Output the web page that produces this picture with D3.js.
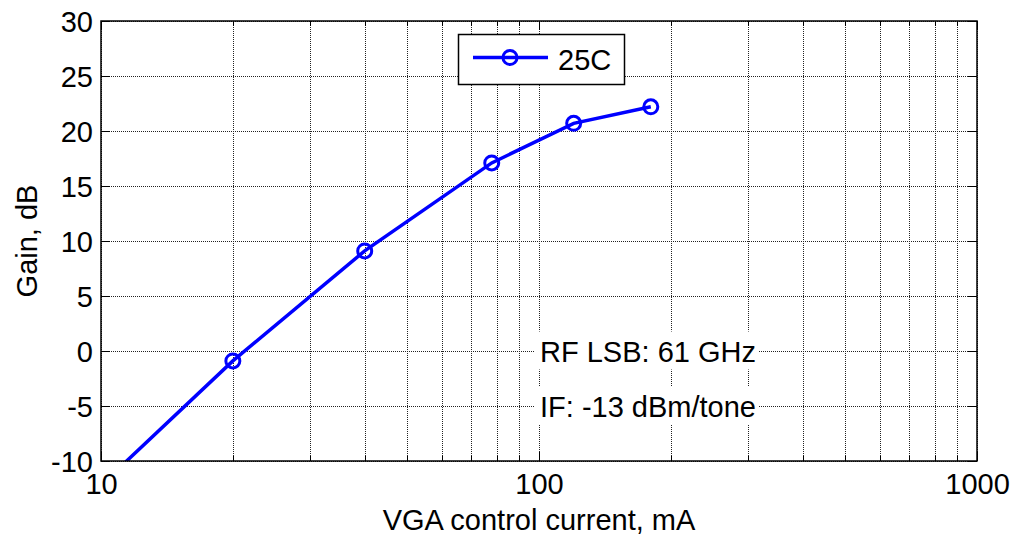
<!DOCTYPE html>
<html>
<head>
<meta charset="utf-8">
<script src="https://cdn.jsdelivr.net/npm/d3@7"></script>
<style>
  html, body { margin: 0; padding: 0; background: #fff; }
  svg { display: block; font-family: "Liberation Sans", Arial, Helvetica, sans-serif; }
</style>
</head>
<body>
<svg id="chart" width="1014" height="538"></svg>
<script>
// ---- data ----
const currents = [10, 20, 40, 78, 120, 180];      // VGA control current, mA
const gains    = [-12.2, -0.9, 9.1, 17.1, 20.7, 22.2]; // Gain, dB (25C)
const seriesName = "25C";
const xTickValues = [10, 100, 1000];
const xTickLabels = ["10", "100", "1000"];
const yTickValues = [-10, -5, 0, 5, 10, 15, 20, 25, 30];
const yTickLabels = ["-10", "-5", "0", "5", "10", "15", "20", "25", "30"];
const xMinorValues = [20, 30, 40, 50, 60, 70, 80, 90, 200, 300, 400, 500, 600, 700, 800, 900];
const annotations = ["RF LSB: 61 GHz", "IF: -13 dBm/tone"];
const xLabel = "VGA control current, mA";
const yLabel = "Gain, dB";

(function () {
// ---- layout ----
const L = 101, R = 977, T = 21, B = 461;
const FS = 29;
const svg = d3.select("#chart");

const x = d3.scaleLog().domain([10, 1000]).range([L, R]);
const y = d3.scaleLinear().domain([-10, 30]).range([B, T]);

svg.append("rect").attr("x", L).attr("y", T).attr("width", R - L).attr("height", B - T).attr("fill", "#fff");

// grid
const grid = svg.append("g").attr("stroke", "#222").attr("stroke-width", 1).attr("stroke-dasharray", "1,1");
grid.selectAll("line.vx").data(xMinorValues.concat(xTickValues)).join("line")
  .attr("x1", d => Math.round(x(d)) + 0.5).attr("x2", d => Math.round(x(d)) + 0.5)
  .attr("y1", T).attr("y2", B);
grid.selectAll("line.hy").data(yTickValues).join("line")
  .attr("x1", L).attr("x2", R)
  .attr("y1", d => Math.round(y(d)) + 0.5).attr("y2", d => Math.round(y(d)) + 0.5);

// annotations with white background
const annY = [0, -5];
annotations.forEach((t, i) => {
  const g = svg.append("g");
  const txt = g.append("text").attr("x", 540).attr("y", y(annY[i]) + 10.5)
    .attr("font-size", FS).attr("fill", "#000").text(t);
  const bb = txt.node().getBBox();
  g.insert("rect", "text").attr("x", bb.x - 5).attr("y", bb.y - 4)
    .attr("width", bb.width + 8).attr("height", bb.height + 6).attr("fill", "#fff");
});

// clip
svg.append("clipPath").attr("id", "clip").append("rect")
  .attr("x", L).attr("y", T).attr("width", R - L).attr("height", B - T);

const data = currents.map((c, i) => ({c, g: gains[i]}));
const plot = svg.append("g").attr("clip-path", "url(#clip)");
plot.append("path").datum(data)
  .attr("fill", "none").attr("stroke", "#0000ff").attr("stroke-width", 3.5)
  .attr("d", d3.line().x(d => x(d.c)).y(d => y(d.g)));
plot.selectAll("circle").data(data).join("circle")
  .attr("cx", d => x(d.c)).attr("cy", d => y(d.g)).attr("r", 7)
  .attr("fill", "none").attr("stroke", "#0000ff").attr("stroke-width", 3);

// axes (inward ticks, box)
const axG = svg.append("g");
const axBottom = axG.append("g").attr("transform", `translate(0,${B})`)
  .call(d3.axisBottom(x).tickValues(xTickValues).tickSize(-9).tickFormat((d, i) => xTickLabels[i]));
axG.append("g").attr("transform", `translate(0,${T})`)
  .call(d3.axisTop(x).tickValues(xTickValues).tickSize(-9).tickFormat(""));
const axLeft = axG.append("g").attr("transform", `translate(${L},0)`)
  .call(d3.axisLeft(y).tickValues(yTickValues).tickSize(-9).tickFormat((d, i) => yTickLabels[i]));
axG.append("g").attr("transform", `translate(${R},0)`)
  .call(d3.axisRight(y).tickValues(yTickValues).tickSize(-9).tickFormat(""));
// minor x ticks
[[B, -5], [T, 5]].forEach(([yy, len]) => {
  axG.append("g").selectAll("line").data(xMinorValues).join("line")
    .attr("x1", d => Math.round(x(d)) + 0.5).attr("x2", d => Math.round(x(d)) + 0.5).attr("y1", yy).attr("y2", yy + len)
    .attr("stroke", "#000").attr("stroke-width", 1);
});
axG.selectAll(".domain").remove();
axG.selectAll(".tick line").attr("stroke", "#000").attr("stroke-width", 1);
axG.selectAll(".tick text").attr("font-size", FS).attr("fill", "#000")
  .attr("font-family", "'Liberation Sans', Arial, sans-serif");
axBottom.selectAll(".tick text").attr("dy", null).attr("y", 33);
axLeft.selectAll(".tick text").attr("x", -8).attr("dy", "0.35em");
axG.append("rect").attr("x", L).attr("y", T).attr("width", R - L).attr("height", B - T)
  .attr("fill", "none").attr("stroke", "#000").attr("stroke-width", 1.5);

// labels
svg.append("text").attr("x", (L + R) / 2).attr("y", 530).attr("text-anchor", "middle")
  .attr("font-size", FS).attr("fill", "#000").text(xLabel);
svg.append("text").attr("transform", `translate(37,${(T + B) / 2}) rotate(-90)`)
  .attr("text-anchor", "middle").attr("font-size", FS).attr("fill", "#000").text(yLabel);

// legend
const lg = svg.append("g");
lg.append("rect").attr("x", 458.5).attr("y", 34.5).attr("width", 166).attr("height", 50)
  .attr("fill", "#fff").attr("stroke", "#000").attr("stroke-width", 1.5);
lg.append("line").attr("x1", 473).attr("x2", 548).attr("y1", 57.5).attr("y2", 57.5)
  .attr("stroke", "#0000ff").attr("stroke-width", 3.5);
lg.append("circle").attr("cx", 510).attr("cy", 57.5).attr("r", 7)
  .attr("fill", "none").attr("stroke", "#0000ff").attr("stroke-width", 3);
lg.append("text").attr("x", 558).attr("y", 70).attr("font-size", FS).attr("fill", "#000").text(seriesName);
})();
</script>
</body>
</html>
